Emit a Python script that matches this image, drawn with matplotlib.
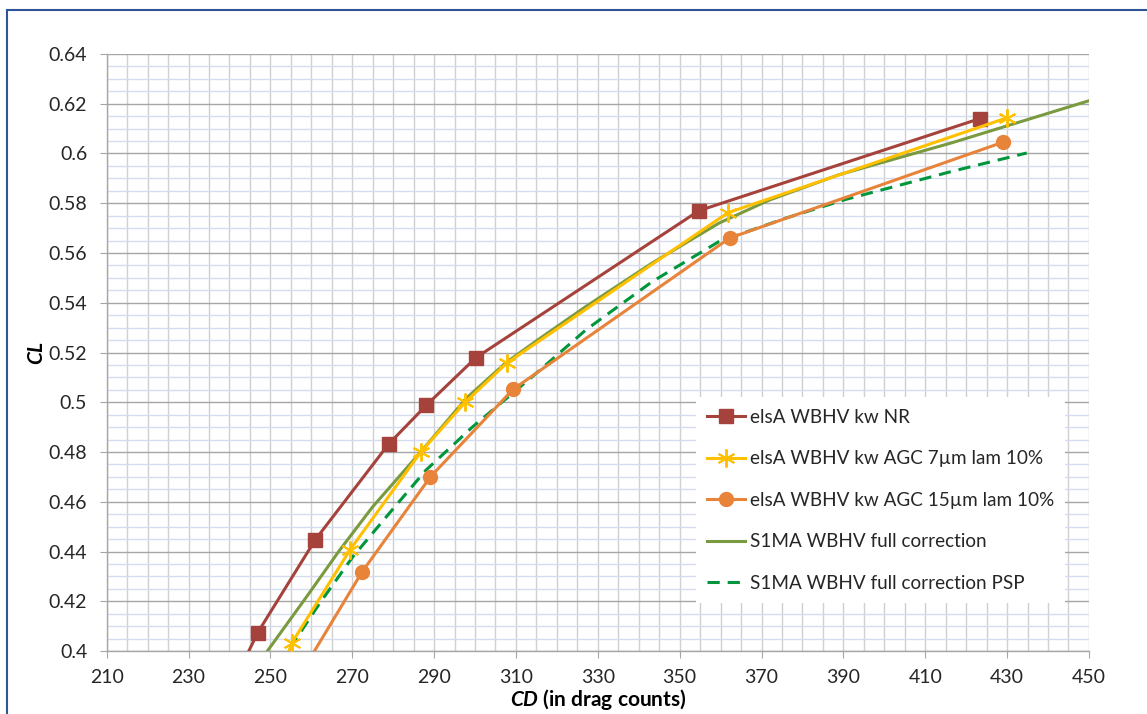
import matplotlib
matplotlib.use("Agg")
import matplotlib.pyplot as plt
from matplotlib.patches import Rectangle
from matplotlib.ticker import MultipleLocator

plt.rcParams['font.family'] = ['Lato', 'DejaVu Sans']
plt.rcParams['mathtext.fontset'] = 'custom'
plt.rcParams['mathtext.bfit'] = 'Lato:italic:bold'

# elsA WBHV kw NR
nr_cd = [241.8, 246.9, 261.0, 278.9, 288.1, 300.2, 354.7, 423.3]
nr_cl = [0.390, 0.4074, 0.4448, 0.4832, 0.4988, 0.5179, 0.5770, 0.6140]

# elsA WBHV kw AGC 7um lam 10%
agc7_cd = [252.3, 255.3, 269.5, 286.8, 297.6, 307.8, 361.8, 429.9]
agc7_cl = [0.390, 0.4034, 0.4408, 0.4801, 0.5000, 0.5158, 0.5762, 0.6143]

# elsA WBHV kw AGC 15um lam 10%
agc15_cd = [257.1, 272.4, 289.1, 309.3, 362.2, 429.1]
agc15_cl = [0.390, 0.4318, 0.4700, 0.5052, 0.5660, 0.6046]

# S1MA WBHV full correction
s1ma_cd = [245.1, 249.4, 258.8, 266.9, 275.0, 286.4, 297.8, 307.6, 315.7,
           327.1, 343.3, 359.6, 371.8, 388.8, 416.5, 449.4, 455.0]
s1ma_cl = [0.390, 0.4003, 0.4217, 0.4405, 0.4580, 0.4794, 0.5015, 0.5160, 0.5255,
           0.5385, 0.5560, 0.5720, 0.5812, 0.5914, 0.6043, 0.6209, 0.6237]

# S1MA WBHV full correction PSP
psp_cd = [254.8, 262.0, 270.1, 278.3, 288.0, 299.4, 314.0, 327.1, 343.3,
          359.6, 375.9, 390.5, 416.5, 434.8]
psp_cl = [0.4012, 0.4191, 0.4378, 0.4539, 0.4727, 0.4901, 0.5103, 0.5291, 0.5485,
          0.5646, 0.5740, 0.5815, 0.5928, 0.6002]

xticks = list(range(210, 451, 20))
yticks = [0.40, 0.42, 0.44, 0.46, 0.48, 0.50, 0.52, 0.54, 0.56, 0.58, 0.60, 0.62, 0.64]
ytick_labels = ["0.4", "0.42", "0.44", "0.46", "0.48", "0.5", "0.52", "0.54",
                "0.56", "0.58", "0.6", "0.62", "0.64"]

fig = plt.figure(figsize=(11.47, 7.14), dpi=100)
ax = fig.add_axes([0.0930, 0.0882, 0.8564, 0.8362])

ax.set_xlim(210, 450)
ax.set_ylim(0.40, 0.64)

# grid: light blue minor horizontals, gray major horizontals, gray verticals every 5
ax.yaxis.set_minor_locator(MultipleLocator(0.005))
ax.xaxis.set_minor_locator(MultipleLocator(5))
ax.grid(which='minor', axis='y', color='#D5DCF0', lw=1.0, zorder=0)
ax.grid(which='minor', axis='x', color='#D0D0D0', lw=1.0, zorder=0)
ax.grid(which='major', axis='x', color='#D0D0D0', lw=1.0, zorder=0)
ax.grid(which='major', axis='y', color='#A6A6A6', lw=1.0, zorder=1)
ax.set_axisbelow(True)

ax.set_xticks(xticks)
ax.set_yticks(yticks)
ax.set_yticklabels(ytick_labels)
ax.tick_params(which='minor', length=0)
ax.tick_params(which='major', length=5, color='#A6A6A6', labelsize=14,
               labelcolor='#262626')
ax.tick_params(axis='y', pad=9)
ax.tick_params(axis='x', pad=8)

for side in ['top', 'right']:
    ax.spines[side].set_visible(False)
for side in ['left', 'bottom']:
    ax.spines[side].set_color('#A6A6A6')
    ax.spines[side].set_linewidth(1.0)

lw = 2.2
ax.plot(nr_cd, nr_cl, '-', color='#A6423C', lw=lw, marker='s', ms=10,
        label='elsA WBHV kw NR', zorder=5)
ax.plot(agc7_cd, agc7_cl, '-', color='#FFC000', lw=lw, marker=(6, 2, 0), ms=13,
        mew=1.4, label='elsA WBHV kw AGC 7\u00b5m lam 10%', zorder=5)
ax.plot(agc15_cd, agc15_cl, '-', color='#E8833A', lw=lw, marker='o', ms=10,
        label='elsA WBHV kw AGC 15\u00b5m lam 10%', zorder=5)
ax.plot(s1ma_cd, s1ma_cl, '-', color='#7A9A3F', lw=lw,
        label='S1MA WBHV full correction', zorder=4)
ax.plot(psp_cd, psp_cl, '--', color='#00963C', lw=lw, dashes=(4, 2.6),
        label='S1MA WBHV full correction PSP', zorder=4)

leg = ax.legend(loc='upper left', bbox_to_anchor=(0.600, 0.425), fontsize=13.6,
                frameon=True, fancybox=False, framealpha=1.0, edgecolor='white',
                labelspacing=1.3, handlelength=2.0, handletextpad=0.25,
                borderpad=0.6, borderaxespad=0.0)
leg.get_frame().set_linewidth(0)
for t in leg.get_texts():
    t.set_color('#262626')

ax.set_xlabel(r'$\mathbfit{CD}$ (in drag counts)', fontsize=15, fontweight='bold',
              labelpad=1)
ax.set_ylabel('CL', fontsize=15, fontweight='bold', fontstyle='italic', labelpad=2)

# blue outer border of the chart area
fig.patches.append(Rectangle((6.5 / 1147, -0.1), 2.0, 1.1 - 10 / 714,
                             transform=fig.transFigure, fill=False,
                             edgecolor='#2F5597', lw=1.5))

fig.savefig('out.png', dpi=100)
